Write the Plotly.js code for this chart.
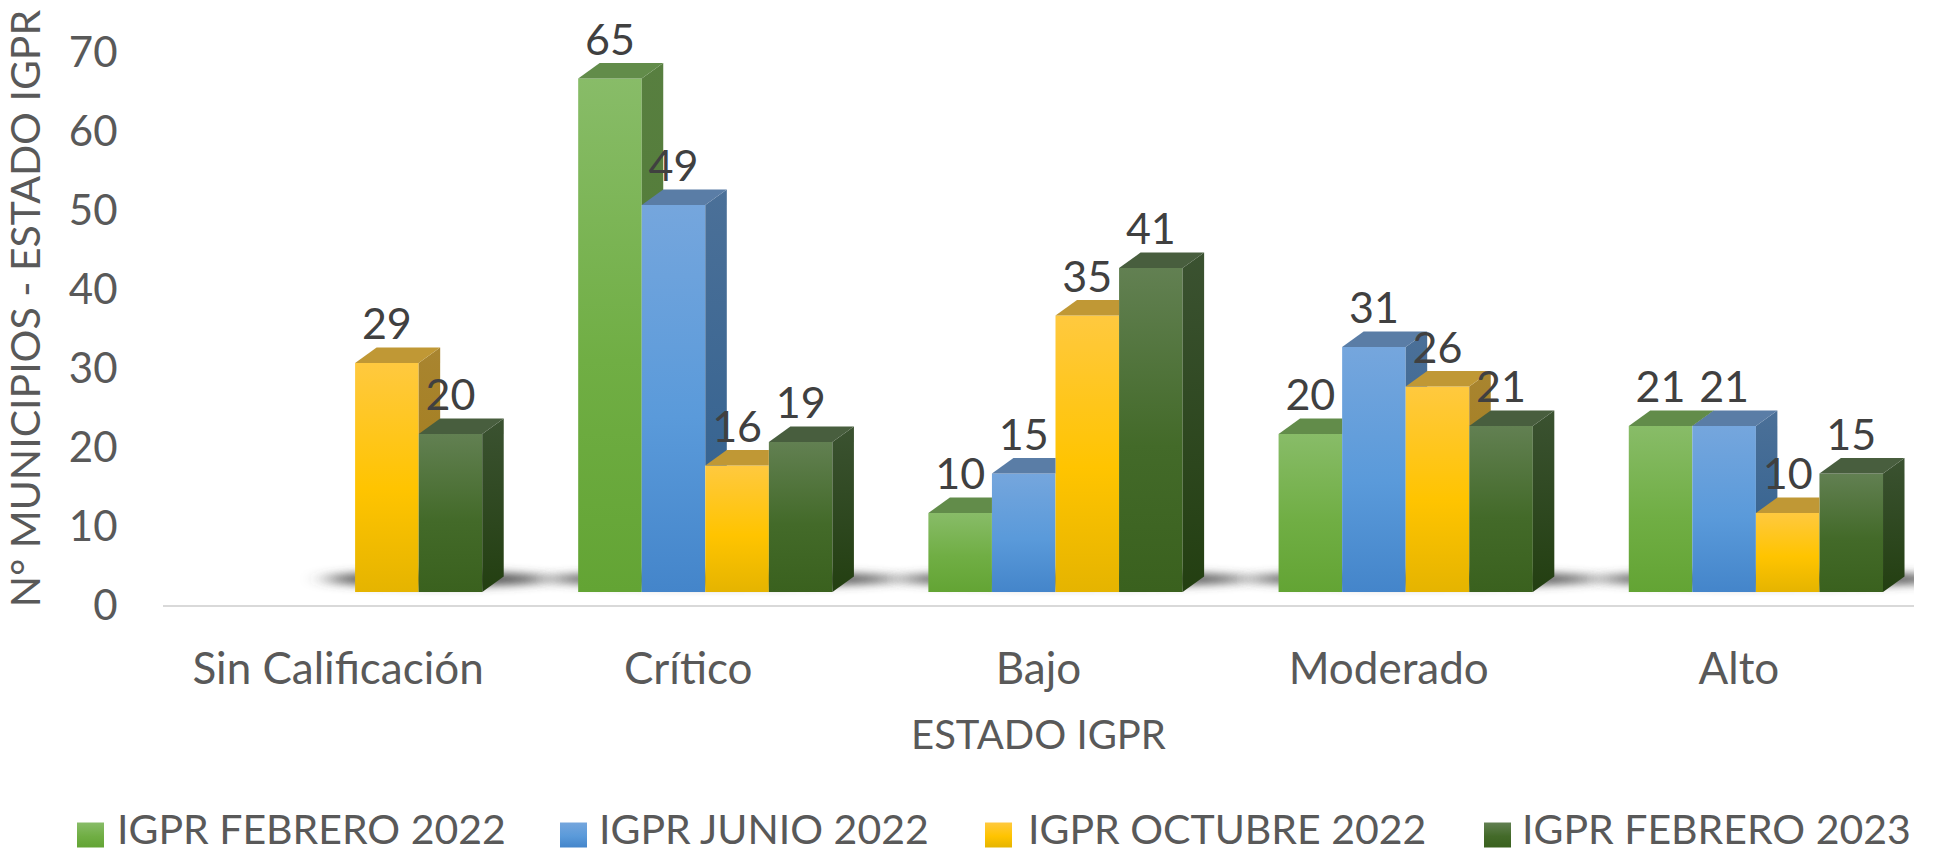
<!DOCTYPE html>
<html><head><meta charset="utf-8">
<script src="https://cdn.plot.ly/plotly-3.0.1.min.js"></script>
<style>html,body{margin:0;padding:0;background:#fff}#c{width:1946px;height:854px}</style></head>
<body><div id="c"></div>
<script>
const categories = ["Sin Calificación","Crítico","Bajo","Moderado","Alto"];
const seriesNames = ["IGPR FEBRERO 2022","IGPR JUNIO 2022","IGPR OCTUBRE 2022","IGPR FEBRERO 2023"];
const febrero2022 = [null,65,10,20,21];
const junio2022 = [null,49,15,31,21];
const octubre2022 = [29,16,35,26,10];
const febrero2023 = [20,19,41,21,15];
const yTicks = [0,10,20,30,40,50,60,70];
const seriesValues = [febrero2022,junio2022,octubre2022,febrero2023];

const frontStops = [["#88BC68","#70AE44","#63A434"],["#75A6DD","#5A9ADA","#4485CA"],["#FFC93F","#FFC400","#E5B400"],["#628052","#436A29","#3A611E"]];
const sideColors = [["#587F40","#4E7A30"],["#4B7098","#2F5F8E"],["#A98530","#A07810"],["#3B5231","#233F11"]];
const topColors = ["#628C4A","#5A7DA6","#C09835","#485E3E"];
const TEXT = "#595959", LABEL = "#404040", FONT = "Lato, sans-serif";

// pixel geometry of the pseudo-3D look, converted to axis units
const L = 163, R = 1914, AXIS_Y = 605, PX_PER_UNIT = 7.9;
const catPx = (R - L) / categories.length;
const groupShare = 0.726, shift = 17 / catPx;
const barW = groupShare / seriesValues.length;
const depthX = 21.5 / catPx, depthY = 15.5 / PX_PER_UNIT, floor = 13 / PX_PER_UNIT;
const labelDrop = 2.5 / PX_PER_UNIT;
// legend entry positions in page pixels: swatch left edge, text left edge
const legendSwatchX = [77, 560, 985, 1484];
const legendTextX = [117, 599, 1028, 1522];
const legendCenterY = 835;
const legendTextLift = 7;

const catX = categories.map((c, i) => i + shift);
const traces = [];
// real bars (front faces)
seriesValues.forEach((vals, s) => traces.push({
  type: "bar", name: seriesNames[s], x: catX, y: vals, base: vals.map(() => floor),
  marker: {color: frontStops[s][1], line: {width: 0}}, hoverinfo: "name+y"
}));
const left = (i, s) => catX[i] - groupShare / 2 + s * barW;
// depth faces, painted left to right so that nearer bars cover farther ones
categories.forEach((c, i) => seriesValues.forEach((vals, s) => {
  const v = vals[i]; if (v === null) return;
  const next = s + 1 < seriesValues.length ? seriesValues[s + 1][i] : null;
  const xl = left(i, s), xr = xl + barW, T = floor + v, N = next === null ? -1 : floor + next;
  const low0 = Math.max(floor, N), low1 = Math.max(floor + depthY, N);
  if (N < T + depthY) {
    const sx = [], sy = [];
    if (N <= T) { sx.push(xr, xr + depthX, xr + depthX, xr); sy.push(low0, low1, T + depthY, T); }
    else { sx.push(xr + depthX * (N - T) / depthY, xr + depthX, xr + depthX); sy.push(N, N, T + depthY); }
    traces.push({type: "scatter", mode: "lines", x: sx, y: sy, fill: "toself", line: {width: 0},
      fillcolor: sideColors[s][0], showlegend: false, hoverinfo: "skip",
      fillgradient: {type: "vertical", colorscale: [[0, sideColors[s][1]], [1, sideColors[s][0]]], start: floor, stop: T + depthY}});
  }
  const tx = N > T + depthY ? [xl, xr, xr, xl + depthX] : [xl, xr, xr + depthX, xl + depthX];
  traces.push({type: "scatter", mode: "lines", x: tx, y: [T, T, T + depthY, T + depthY], fill: "toself",
    line: {width: 0}, fillcolor: topColors[s], showlegend: false, hoverinfo: "skip"});
}));
// data labels
seriesValues.forEach((vals, s) => traces.push({
  type: "scatter", mode: "text", showlegend: false, hoverinfo: "skip", cliponaxis: false,
  x: categories.map((c, i) => left(i, s) + barW / 2),
  y: vals.map(v => v === null ? null : floor + v + depthY - labelDrop),
  text: vals.map(v => v === null ? "" : String(v)), textposition: "top center",
  textfont: {family: FONT, size: 43, color: LABEL}
}));
// soft floor shadow under every group
const shapes = categories.map((c, i) => {
  const first = seriesValues.findIndex(vals => vals[i] !== null);
  return {type: "circle", layer: "below", xref: "x", yref: "y",
    x0: left(i, first) - 30 / catPx, x1: left(i, seriesValues.length) + depthX + 44 / catPx,
    y0: 26 / PX_PER_UNIT - 7 / PX_PER_UNIT, y1: 26 / PX_PER_UNIT + 7 / PX_PER_UNIT,
    fillcolor: "#4a4a4a", line: {width: 0}};
});

const layout = {
  width: 1946, height: 854, paper_bgcolor: "#fff", plot_bgcolor: "#fff", showlegend: true,
  margin: {l: L, r: 1946 - R, t: 0, b: 854 - AXIS_Y, pad: 0},
  barmode: "group", bargap: 1 - groupShare, bargroupgap: 0, shapes,
  font: {family: FONT, color: TEXT},
  xaxis: {range: [-0.5, categories.length - 0.5], tickmode: "array", tickvals: categories.map((c, i) => i), ticktext: categories,
    showgrid: false, zeroline: false, showline: true, linecolor: "#D9D9D9", linewidth: 2,
    ticks: "outside", ticklen: 24, tickcolor: "rgba(0,0,0,0)", tickfont: {family: FONT, size: 44, color: TEXT},
    title: {text: "ESTADO IGPR", font: {family: FONT, size: 40, color: TEXT}, standoff: 29}},
  yaxis: {range: [0, AXIS_Y / PX_PER_UNIT], tickmode: "array", tickvals: yTicks, showgrid: false, zeroline: false, showline: false,
    ticks: "outside", ticklen: 36, tickcolor: "rgba(0,0,0,0)", tickfont: {family: FONT, size: 42, color: TEXT},
    title: {text: "N° MUNICIPIOS - ESTADO IGPR", font: {family: FONT, size: 41, color: TEXT}, standoff: 17}},
  legend: {orientation: "h", xref: "container", yref: "container", x: 0.03, y: 0.005, yanchor: "bottom", xanchor: "left",
    font: {family: FONT, size: 41, color: TEXT}, itemclick: false, itemdoubleclick: false, tracegroupgap: 0, itemwidth: 30}
};

Plotly.newPlot("c", traces, layout, {displayModeBar: false, staticPlot: true}).then(gd => {
  const svg = gd.querySelector("svg.main-svg");
  const NS = "http://www.w3.org/2000/svg";
  const defs = svg.querySelector("defs");
  frontStops.forEach((st, s) => {
    const g = document.createElementNS(NS, "linearGradient");
    g.id = "front" + s; g.setAttribute("x1", 0); g.setAttribute("x2", 0); g.setAttribute("y1", 0); g.setAttribute("y2", 1);
    [[0, st[0]], [0.55, st[1]], [1, st[2]]].forEach(p => {
      const e = document.createElementNS(NS, "stop"); e.setAttribute("offset", p[0]); e.setAttribute("stop-color", p[1]); g.appendChild(e);
    });
    defs.appendChild(g);
  });
  const f = document.createElementNS(NS, "filter");
  f.id = "soft"; f.setAttribute("x", "-30%"); f.setAttribute("y", "-300%"); f.setAttribute("width", "160%"); f.setAttribute("height", "700%");
  const b = document.createElementNS(NS, "feGaussianBlur"); b.setAttribute("stdDeviation", "12 5"); f.appendChild(b); defs.appendChild(f);
  gd.querySelectorAll(".shapelayer path").forEach(p => { p.style.filter = "url(#soft)"; });
  gd.querySelectorAll(".barlayer .trace").forEach((t, s) => t.querySelectorAll("path").forEach(p => { p.style.fill = "url(#front" + s + ")"; }));

  // legend: Plotly builds the entries; spread them to the reference spacing
  const sb = gd.querySelector(".legend .scrollbox");
  if (sb) { sb.removeAttribute("clip-path"); sb.style.clipPath = "none"; }
  gd.querySelectorAll(".legend .traces").forEach((t, s) => {
    const p = t.querySelector(".legendpoints path");
    if (p) { p.setAttribute("d", "M13.5,12.5H-13.5V-12.5H13.5Z"); p.style.fill = "url(#front" + s + ")"; }
    const m = /translate\(\s*([-\d.]+)[ ,]+([-\d.]+)/.exec(t.getAttribute("transform") || "") || [0, 0, 0];
    const r = p.getBoundingClientRect();
    const nx = +m[1] + legendSwatchX[s] - r.left, ny = +m[2] + legendCenterY - (r.top + r.bottom) / 2;
    t.setAttribute("transform", "translate(" + nx + "," + ny + ")");
    const txt = t.querySelector("text.legendtext");
    txt.setAttribute("x", +txt.getAttribute("x") + legendTextX[s] - txt.getBoundingClientRect().left);
    txt.setAttribute("y", +txt.getAttribute("y") - legendTextLift);
    const tr = t.querySelector(".legendtoggle"); if (tr) tr.remove();
  });
  const yt = gd.querySelector(".ytitle");
  if (yt) yt.setAttribute("transform", "translate(0,6) " + (yt.getAttribute("transform") || ""));
});
</script></body></html>
